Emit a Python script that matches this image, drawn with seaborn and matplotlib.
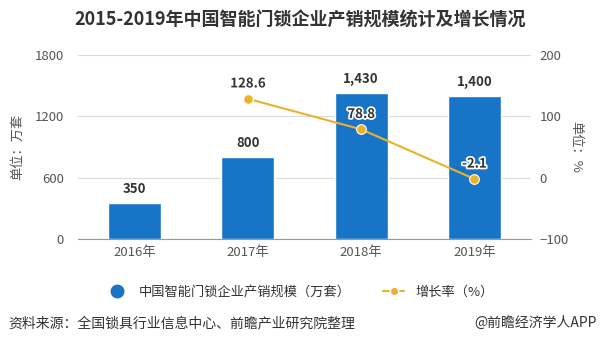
import matplotlib
matplotlib.use("Agg")
import matplotlib.pyplot as plt
import matplotlib.patheffects as pe
from matplotlib.lines import Line2D
import seaborn as sns
import pandas as pd
import numpy as np

years = ["2016年", "2017年", "2018年", "2019年"]
scale = [350, 800, 1430, 1400]
growth = [np.nan, 128.6, 78.8, -2.1]
scale_labels = ["350", "800", "1,430", "1,400"]

title = "2015-2019年中国智能门锁企业产销规模统计及增长情况"
bar_name = "中国智能门锁企业产销规模（万套）"
line_name = "增长率（%）"
source = "资料来源：全国锁具行业信息中心、前瞻产业研究院整理"
credit = "@前瞻经济学人APP"

sns.set_theme(style="white")
plt.rcParams['font.family'] = ['Noto Sans CJK SC', 'DejaVu Sans']

BAR = "#1874c6"
LINE = "#eab22c"
TXT = "#333333"
TICK = "#555555"

df = pd.DataFrame({"year": years, "scale": scale, "growth": growth,
                   "pos": np.arange(len(years))})

fig = plt.figure(figsize=(6.0, 3.44), dpi=100)
ax = fig.add_axes([78/600, 1-239/344, 453/600, 184/344])

sns.barplot(data=df, x="year", y="scale", color=BAR, width=0.47,
            saturation=1, ax=ax, zorder=2)
ax.set_ylim(0, 1800)
ax.set_yticks([0, 600, 1200, 1800])
ax.set_xlim(-0.5, 3.5)
ax.grid(axis="y", color="#dcdcdc", linewidth=0.8, zorder=0)
ax.set_axisbelow(True)
for s in ["top", "right", "left"]:
    ax.spines[s].set_visible(False)
ax.spines["bottom"].set_color("#999999")
ax.spines["bottom"].set_linewidth(0.8)
ax.tick_params(axis="x", colors=TICK, labelsize=9.5, length=3, color="#999999", pad=2)
ax.tick_params(axis="y", colors=TICK, labelsize=9.5, length=0, pad=10)
ax.set_xlabel("")
ax.set_ylabel("单位：万套", color=TICK, fontsize=9.5, labelpad=8)

for p, v, lab in zip(df["pos"], df["scale"], scale_labels):
    ax.annotate(lab, (p, v), xytext=(0, 5), textcoords="offset points",
                ha="center", va="bottom", fontsize=9.5, fontweight="bold", color=TXT)

ax2 = ax.twinx()
sns.lineplot(data=df, x="pos", y="growth", color=LINE, linewidth=1.5,
             marker="o", markersize=7, markeredgecolor="white",
             markeredgewidth=0.8, ax=ax2, zorder=3)
ax2.set_ylim(-100, 200)
ax2.set_yticks([-100, 0, 100, 200])
ax2.set_xlim(-0.5, 3.5)
for s in ["top", "right", "left", "bottom"]:
    ax2.spines[s].set_visible(False)
ax2.tick_params(axis="y", colors=TICK, labelsize=9.5, length=0, pad=6)
ax2.set_ylabel("单位：%", color=TICK, fontsize=9.5, rotation=270, labelpad=10)
ax2.set_xlabel("")

for p, g in zip(df["pos"], df["growth"]):
    if np.isnan(g):
        continue
    ax2.annotate(f"{g:.1f}", (p, g), xytext=(0, 6), textcoords="offset points",
                 ha="center", va="bottom", fontsize=9.5, fontweight="bold", color=TXT,
                 path_effects=[pe.withStroke(linewidth=2.5, foreground="white")])

fig.text(0.5, 1-20/344, title, ha="center", va="center", fontsize=13,
         fontweight="bold", color=TXT)

handles = [Line2D([], [], marker="o", color="none", markerfacecolor=BAR,
                  markeredgecolor=BAR, markersize=9),
           Line2D([], [], marker="o", color=LINE, markerfacecolor=LINE,
                  markeredgecolor="white", markersize=6, linewidth=1.5)]
fig.legend(handles, [bar_name, line_name], loc="center",
           bbox_to_anchor=(0.5, 1-292/344), ncol=2, frameon=False,
           fontsize=9.5, handlelength=1.6, columnspacing=2.5,
           labelcolor=TXT)

fig.text(8/600, 1-323/344, source, ha="left", va="center", fontsize=10, color=TXT)
fig.text(597/600, 1-323/344, credit, ha="right", va="center", fontsize=10, color=TXT)

fig.savefig("out.png", dpi=100)
